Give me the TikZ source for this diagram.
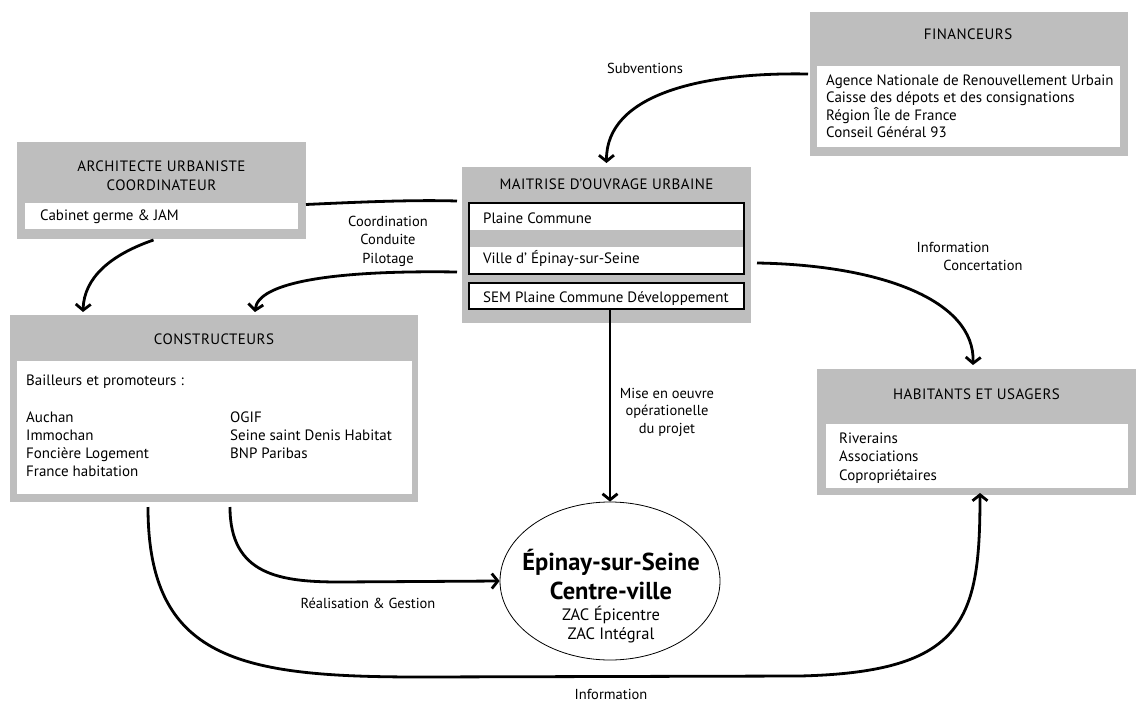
\documentclass[tikz,border=0pt]{standalone}
\usepackage{fontspec}
\setmainfont{PT Sans}
\usetikzlibrary{arrows.meta,calc,shapes.geometric}
\definecolor{boxgray}{RGB}{190,190,190}
\begin{document}
\begin{tikzpicture}[x=1pt,y=-1pt,
  graybox/.style={fill=boxgray, draw=none, inner sep=0, outer sep=0},
  whitebox/.style={fill=white, draw=none, inner sep=0, outer sep=0},
  framebox/.style={fill=white, draw=black, line width=1.8pt, inner sep=0, outer sep=0},
  txt/.style={inner sep=0, font=\fontsize{15}{18}\selectfont, anchor=base west},
  head/.style={inner sep=0, font=\fontsize{15}{18}\selectfont\addfontfeature{LetterSpace=3}, anchor=base},
  lbl/.style={inner sep=0, font=\fontsize{14.5}{17}\selectfont, anchor=base},
  conn/.style={line width=2.8pt, -{Straight Barb[length=6pt,width=15pt]}},
  link/.style={line width=2.8pt}]
\useasboundingbox[fill=white] (0,0) rectangle (1141,701);

% FINANCEURS
\node[graybox, minimum width=318, minimum height=144] (fin) at (969,84) {};
\node[whitebox, minimum width=303, minimum height=81] (finw) at (968.5,106.5) {};
\node[head] (fint) at (968,40) {FINANCEURS};
\node[txt] (fin1) at (826,85) {Agence Nationale de Renouvellement Urbain};
\node[txt] (fin2) at (826,102.5) {Caisse des dépots et des consignations};
\node[txt] (fin3) at (826,120) {Région Île de France};
\node[txt] (fin4) at (826,137.5) {Conseil Général 93};

% ARCHITECTE
\node[graybox, minimum width=289, minimum height=97] (arch) at (161.5,190.5) {};
\node[whitebox, minimum width=273, minimum height=26] (archw) at (161.5,216) {};
\node[head] (archt1) at (161.5,171) {ARCHITECTE URBANISTE};
\node[head] (archt2) at (161.5,190) {COORDINATEUR};
\node[txt] (arch1) at (40,220) {Cabinet germe \& JAM};

% MAITRISE D'OUVRAGE
\node[graybox, minimum width=289, minimum height=156] (mo) at (606.5,245) {};
\node[framebox, minimum width=275, minimum height=71] (fb) at (606.5,238.5) {};
\node[graybox, minimum width=273.2, minimum height=17] (band) at (606.5,238.5) {};
\node[framebox, minimum width=275, minimum height=26] (sem) at (606.5,296) {};
\node[head] (mot) at (606.5,189) {MAITRISE D’OUVRAGE URBAINE};
\node[txt] (mo1) at (483,223) {Plaine Commune};
\node[txt] (mo2) at (483,263) {Ville d’ Épinay-sur-Seine};
\node[txt] (mo3) at (483,302) {SEM Plaine Commune Développement};

% CONSTRUCTEURS
\node[graybox, minimum width=408, minimum height=187] (cons) at (214,408.5) {};
\node[whitebox, minimum width=395, minimum height=133] (consw) at (214.5,427.5) {};
\node[head] (const) at (214,344) {CONSTRUCTEURS};
\node[txt] (c0) at (26,385) {Bailleurs et promoteurs :};
\node[txt] (c1) at (26,422) {Auchan};
\node[txt] (c2) at (26,440) {Immochan};
\node[txt] (c3) at (26,458) {Foncière Logement};
\node[txt] (c4) at (26,476.5) {France habitation};
\node[txt] (c5) at (230,422) {OGIF};
\node[txt] (c6) at (230,440) {Seine saint Denis Habitat};
\node[txt] (c7) at (230,458) {BNP Paribas};

% HABITANTS
\node[graybox, minimum width=319, minimum height=126] (hab) at (976.5,432) {};
\node[whitebox, minimum width=302, minimum height=64] (habw) at (977,456) {};
\node[head] (habt) at (976.5,399) {HABITANTS ET USAGERS};
\node[txt] (h1) at (839,443) {Riverains};
\node[txt] (h2) at (839,461.5) {Associations};
\node[txt] (h3) at (839,480) {Copropriétaires};

% ELLIPSE
\node[ellipse, draw=black, line width=0.8pt, minimum width=220, minimum height=158, inner sep=0] (ell) at (610,581) {};
\node[lbl, font=\fontsize{24.5}{28}\selectfont\bfseries] (e1) at (611,570) {Épinay-sur-Seine};
\node[lbl, font=\fontsize{24.5}{28}\selectfont\bfseries] (e2) at (611,599) {Centre-ville};
\node[lbl, font=\fontsize{16.5}{19}\selectfont] (e3) at (611,620) {ZAC Épicentre};
\node[lbl, font=\fontsize{16.5}{19}\selectfont] (e4) at (611,639) {ZAC Intégral};

% LABELS
\node[lbl] (lsub) at (645,74) {Subventions};
\node[lbl] (lco1) at (388,226) {Coordination};
\node[lbl] (lco2) at (388,244.5) {Conduite};
\node[lbl] (lco3) at (388,263) {Pilotage};
\node[lbl] (lin1) at (953,252) {Information};
\node[lbl] (lin2) at (983,270) {Concertation};
\node[lbl] (lmi1) at (667,398) {Mise en oeuvre};
\node[lbl] (lmi2) at (667,415.5) {opérationelle};
\node[lbl] (lmi3) at (667,433) {du projet};
\node[lbl] (lrg) at (368,608) {Réalisation \& Gestion};
\node[lbl] (linf) at (611,699) {Information};

% CONNECTORS
\draw[conn] ($(fin.west)+(-2,-10)$) .. controls (700,72) and (606,95) .. ($(mo.north)+(0,-4)$);
\draw[link] ($(arch.east)+(0,14)$) .. controls (380,201) and (420,200) .. ($(mo.west)+(-5,-44)$);
\draw[conn] ($(mo.west)+(-5,27)$) .. controls (330,270) and (258,283) .. ($(cons.north)+(41,-3)$);
\draw[conn] ($(arch.south)+(-8,1)$) .. controls (110,255) and (84,278) .. ($(cons.north)+(-131,-3)$);
\draw[conn] ($(mo.east)+(6,18)$) .. controls (880,265) and (975,300) .. ($(hab.north)+(-3.5,-4)$);
\draw[conn] (ell.north |- sem.south) -- (ell.north);
\draw[conn] ($(cons.south)+(16,5)$) .. controls (230,575) and (280,582) .. (340,582) -- (ell.west);
\draw[conn] ($(cons.south)+(-66,5)$) .. controls (148,660) and (240,677) .. (420,677) -- (800,676) .. controls (965,672) and (980,620) .. ($(hab.south)+(3.5,-2)$);
\end{tikzpicture}
\end{document}
